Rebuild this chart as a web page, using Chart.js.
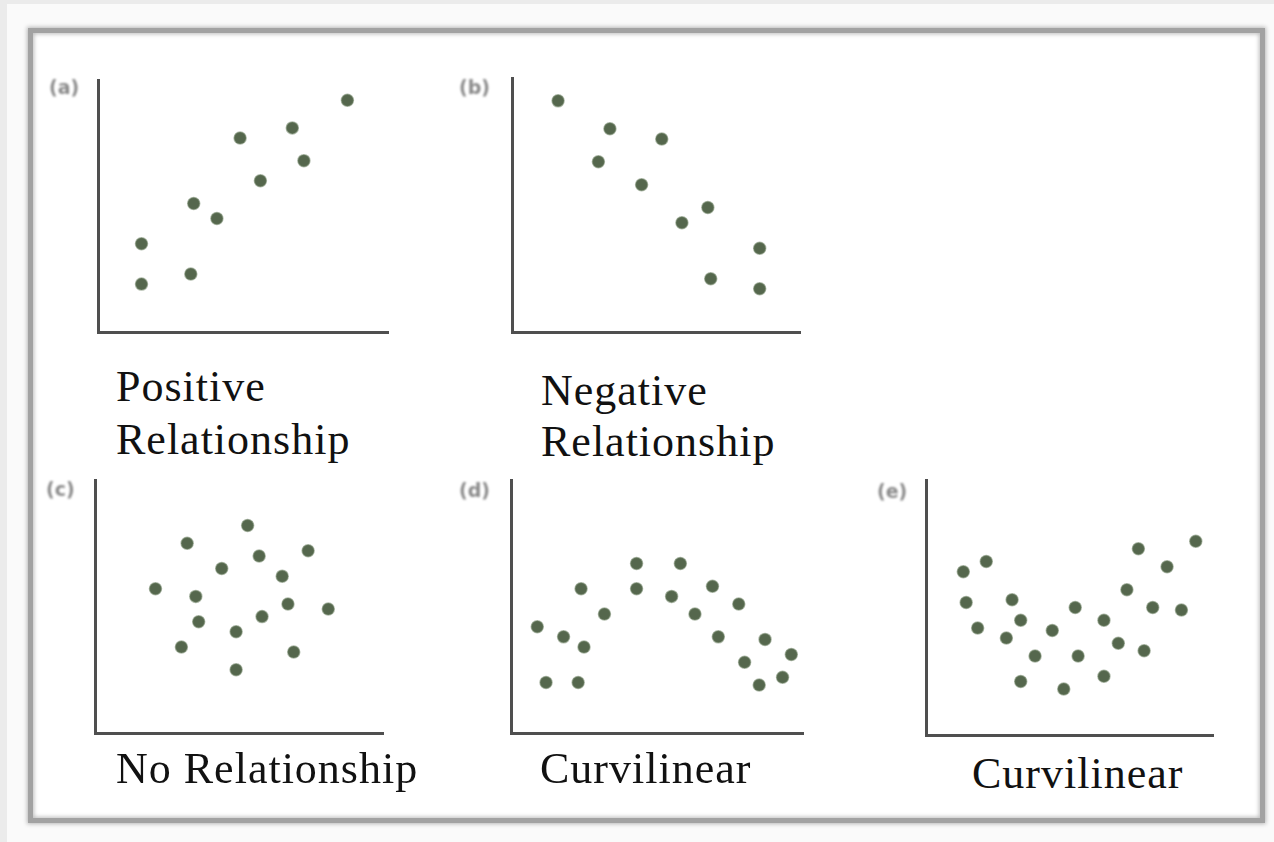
<!DOCTYPE html>
<html>
<head>
<meta charset="utf-8">
<script src="https://cdn.jsdelivr.net/npm/chart.js@4.4.1/dist/chart.umd.min.js"></script>
<style>
  html, body { margin: 0; padding: 0; }
  body { width: 1274px; height: 842px; background: #ebebeb; position: relative; overflow: hidden; }
  #sheet { position: absolute; left: 7px; top: 4px; width: 1267px; height: 838px; background: #fafafa; }
  #frame {
    position: absolute; left: 28px; top: 28px; width: 1227px; height: 785px;
    border: 5px solid #a2a2a2; background: #fff;
    box-shadow: 0 0 4px 1px #b8b8b8, inset 0 0 4px 1px #bcbcbc;
  }
  canvas { position: absolute; filter: blur(0.6px); }
  .tag { position: absolute; font: bold 19px "DejaVu Sans", sans-serif; color: #8a8a8a; filter: blur(0.9px); }
  .cap { position: absolute; font-family: "Liberation Serif", serif; font-size: 44px; letter-spacing: 1px; color: #111; white-space: nowrap; }
</style>
</head>
<body>
<div id="sheet"></div>
<div id="frame"></div>
<script>
// panel tags and captions
const panelTags = ["(a)", "(b)", "(c)", "(d)", "(e)"];
const captions = [
  ["Positive", "Relationship"],
  ["Negative", "Relationship"],
  ["No Relationship"],
  ["Curvilinear"],
  ["Curvilinear"],
];

// point values, each panel on a 0-10 scale
const xA = [1.5, 1.5, 3.2, 3.3, 4.1, 4.9, 5.6, 6.7, 7.1, 8.6];
const yA = [3.5, 1.9, 2.3, 5.1, 4.5, 7.7, 6.0, 8.1, 6.8, 9.2];

const xB = [1.6, 3.4, 3.0, 5.2, 4.5, 5.9, 6.8, 8.6, 6.9, 8.6];
const yB = [9.1, 8.0, 6.7, 7.6, 5.8, 4.3, 4.9, 3.3, 2.1, 1.7];

const xC = [5.3, 3.2, 7.4, 5.7, 4.4, 6.5, 2.1, 3.5, 6.7, 8.1, 3.6, 5.8, 4.9, 3.0, 6.9, 4.9];
const yC = [8.2, 7.5, 7.2, 7.0, 6.5, 6.2, 5.7, 5.4, 5.1, 4.9, 4.4, 4.6, 4.0, 3.4, 3.2, 2.5];

const xD = [4.3, 5.8, 2.4, 4.3, 5.5, 6.9, 3.2, 6.3, 7.8, 0.9, 1.8, 2.5, 7.1, 8.7, 9.6, 8.0, 9.3, 8.5, 1.2, 2.3];
const yD = [6.7, 6.7, 5.7, 5.7, 5.4, 5.8, 4.7, 4.7, 5.1, 4.2, 3.8, 3.4, 3.8, 3.7, 3.1, 2.8, 2.2, 1.9, 2.0, 2.0];

const xE = [9.4, 7.4, 8.4, 2.1, 1.3, 7.0, 1.4, 3.0, 5.2, 7.9, 8.9, 3.3, 6.2, 1.8, 4.4, 2.8, 6.7, 7.6, 3.8, 5.3, 3.3, 6.2, 4.8];
const yE = [7.6, 7.3, 6.6, 6.8, 6.4, 5.7, 5.2, 5.3, 5.0, 5.0, 4.9, 4.5, 4.5, 4.2, 4.1, 3.8, 3.6, 3.3, 3.1, 3.1, 2.1, 2.3, 1.8];

const seriesX = [xA, xB, xC, xD, xE];
const seriesY = [yA, yB, yC, yD, yE];

// layout: axis box of each panel [left, top, right, bottom], tag spot, caption spot
const boxes = [
  [98, 80, 388, 332],
  [512, 78, 800, 332],
  [95, 480, 383, 733],
  [511, 480, 803, 733],
  [926, 480, 1213, 735],
];
const tagPos = [[49, 76], [459, 76], [46, 478], [459, 479], [877, 480]];
const capPos = [[116, 360, 53], [541, 365, 51], [116, 742, 53], [540, 742, 53], [972, 747, 53]];

const pad = 10;

boxes.forEach((b, i) => {
  const cv = document.createElement("canvas");
  const w = b[2] - b[0] + pad * 2;
  const h = b[3] - b[1] + pad * 2;
  cv.width = w;
  cv.height = h;
  cv.style.left = (b[0] - pad) + "px";
  cv.style.top = (b[1] - pad) + "px";
  cv.style.width = w + "px";
  cv.style.height = h + "px";
  document.body.appendChild(cv);

  const axis = {
    type: "linear",
    min: 0,
    max: 10,
    ticks: { display: false },
    grid: { display: false, drawTicks: false },
    border: { display: true, color: "#4f4f4f", width: 3 },
  };

  new Chart(cv.getContext("2d"), {
    type: "scatter",
    data: {
      datasets: [
        {
          data: seriesX[i].map((x, k) => ({ x: x, y: seriesY[i][k] })),
          pointRadius: 6,
          pointBackgroundColor: "#55674d",
          pointBorderColor: "rgba(110,130,100,0.55)",
          pointBorderWidth: 1.5,
        },
      ],
    },
    options: {
      responsive: false,
      animation: false,
      devicePixelRatio: 1,
      layout: { padding: pad },
      plugins: { legend: { display: false }, tooltip: { enabled: false } },
      scales: { x: Object.assign({ position: "bottom" }, axis), y: Object.assign({ position: "left" }, axis) },
    },
  });

  const tag = document.createElement("div");
  tag.className = "tag";
  tag.style.left = tagPos[i][0] + "px";
  tag.style.top = tagPos[i][1] + "px";
  tag.textContent = panelTags[i];
  document.body.appendChild(tag);

  const cap = document.createElement("div");
  cap.className = "cap";
  cap.style.left = capPos[i][0] + "px";
  cap.style.top = capPos[i][1] + "px";
  cap.style.lineHeight = capPos[i][2] + "px";
  cap.innerHTML = captions[i].join("<br>");
  document.body.appendChild(cap);
});
</script>
</body>
</html>
